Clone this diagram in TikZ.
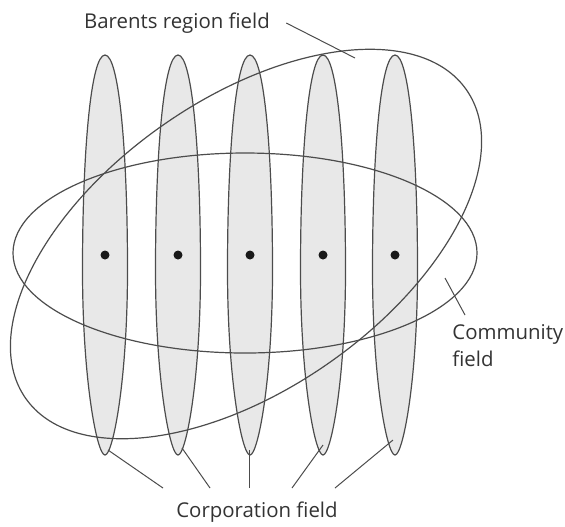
\documentclass[tikz,border=0pt]{standalone}
\usepackage{fontspec}
\setmainfont{Open Sans}

\tikzset{
  corp/.style={draw=black!70,fill=black!9,line width=0.6pt},
  field/.style={draw=black!70,line width=0.6pt},
  leader/.style={draw=black!70,line width=0.5pt},
  dot/.style={circle,fill=black!90,inner sep=0pt,minimum size=4.5pt},
  lbl/.style={font=\fontsize{10.2}{13.5}\selectfont,text=black!80,inner sep=0pt}
}

\begin{document}
\begin{tikzpicture}[x=0.5pt,y=-0.5pt]
  \useasboundingbox (0,0) rectangle (565,526);

  %corporation fields
  \foreach \i/\x/\t/\s/\e in {1/105/108/450/163,2/178/182/448/210,3/250/249/450/249,4/323/323/445/292,5/395/393/440/335}{
    \path[corp] (\x,55) .. controls (\x+14,55) and (\x+22.5,150) .. (\x+22.5,270)
      .. controls (\x+22.5,380) and (\x+8,455) .. (\x,455)
      .. controls (\x-8,455) and (\x-22.5,380) .. (\x-22.5,270)
      .. controls (\x-22.5,150) and (\x-14,55) .. (\x,55) -- cycle;
    \node[dot] (dot\i) at (\x,255) {};
    \coordinate (tip\i) at (\t,\s);
    \coordinate (end\i) at (\e,488);
  }

  %community field
  \coordinate (com) at (245,253);
  \draw[field] (com) ellipse [x radius=232,y radius=100];

  %barents region field
  \coordinate (bar) at (246,244);
  \draw[field,rotate around={35:(bar)}] (bar) ellipse [x radius=269,y radius=145];

  %labels
  \node[lbl] (barlbl) at (177,23) {Barents region field};
  \coordinate (barpt) at (355,58);
  \draw[leader] ([xshift=8pt]barlbl.east) -- (barpt);

  \node[lbl,anchor=north west,align=left] (comlbl) at (452,324) {Community\\field};
  \coordinate (compt) at (445,278);
  \draw[leader] ([xshift=6.5pt,yshift=4.5pt]comlbl.north west) -- (compt);

  \node[lbl] (corplbl) at (257,512) {Corporation field};
  \foreach \i in {1,...,5}
    \draw[leader] (end\i) -- (tip\i);
\end{tikzpicture}
\end{document}
